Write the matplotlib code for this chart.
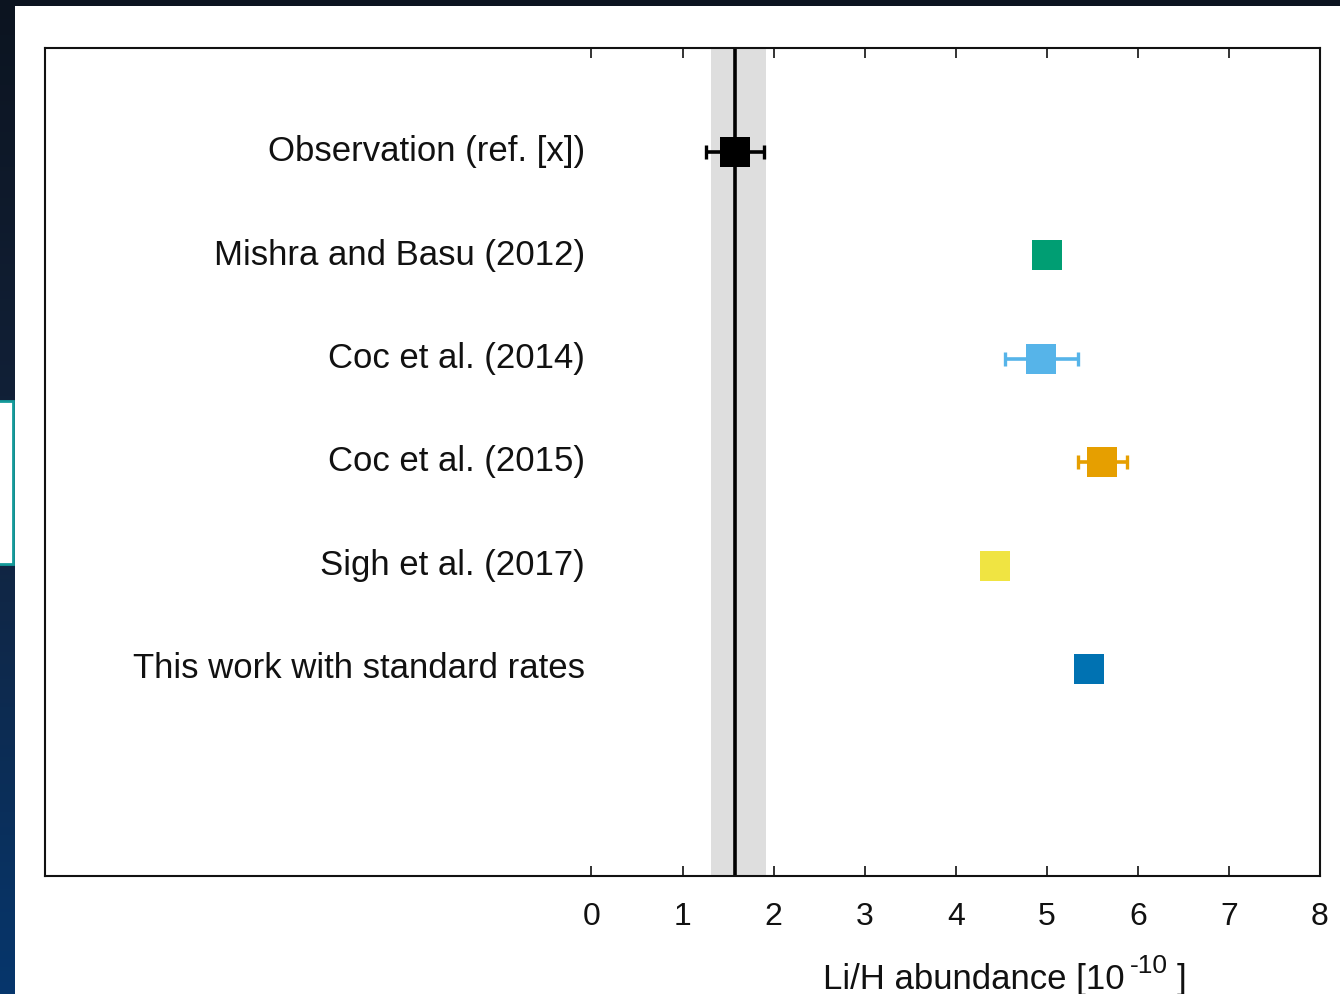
import numpy as np
import matplotlib
matplotlib.use("Agg")
import matplotlib.pyplot as plt
from matplotlib.patches import Rectangle
from matplotlib.colors import LinearSegmentedColormap

plt.rcParams['font.family'] = ['Liberation Sans', 'DejaVu Sans']

# ---- data ----
labels = ["Observation (ref. [x])", "Mishra and Basu (2012)", "Coc et al. (2014)",
          "Coc et al. (2015)", "Sigh et al. (2017)", "This work with standard rates"]
values = [1.58, 5.00, 4.94, 5.61, 4.43, 5.46]
errors = [0.32, 0.0, 0.40, 0.27, 0.0, 0.0]
colors = ["#000000", "#009E73", "#56B4E9", "#E69F00", "#F0E442", "#0072B2"]
obs_value = 1.58
obs_band = (1.31, 1.92)
xticks = [0, 1, 2, 3, 4, 5, 6, 7, 8]
xlabel_main = "Li/H abundance [10"
xlabel_exp = "-10"
xlabel_end = "]"

W, H = 1340, 994
fig = plt.figure(figsize=(W / 100, H / 100), dpi=100)

# background gradient (dark navy frame)
bg = fig.add_axes([0, 0, 1, 1], zorder=-10)
grad = np.linspace(0, 1, 256).reshape(-1, 1)
cmap = LinearSegmentedColormap.from_list("bgc", ["#0c1420", "#12233d", "#06366c"])
bg.imshow(grad, aspect="auto", cmap=cmap, extent=[0, 1, 0, 1], origin="upper")
bg.set_xlim(0, 1); bg.set_ylim(0, 1)
bg.axis("off")
# white panel
bg.add_patch(Rectangle((15 / W, 0), 1 - 15 / W, 1 - 6 / H, facecolor="white",
                       edgecolor="none", transform=bg.transAxes))
# small teal-bordered box at left edge
bg.add_patch(Rectangle((-2 / W, 1 - 564 / H), 15 / W, 163 / H, facecolor="white",
                       edgecolor="#149a9a", linewidth=2, transform=bg.transAxes))

ax = fig.add_axes([45 / W, 1 - 876 / H, (1320 - 45) / W, (876 - 48) / H])
ax.set_facecolor("white")
ypos = np.arange(1, len(labels) + 1)

ax.axvspan(obs_band[0], obs_band[1], color="#dedede", zorder=1, lw=0)
ax.axvline(obs_value, color="black", lw=2.6, zorder=2)

for i, (lab, v, e, c) in enumerate(zip(labels, values, errors, colors)):
    y = ypos[i]
    if e > 0:
        ax.errorbar(v, y, xerr=e, fmt="none", ecolor=c, elinewidth=2.6,
                    capsize=4.8, capthick=2.4, zorder=3)
    ax.plot(v, y, marker="s", ms=21.5, color=c, mec=c, mew=0, ls="none", zorder=4)
    ax.text(-0.07, y, lab, ha="right", va="center", fontsize=25, color="#111111")

ax.set_xlim(-6, 8)
ax.set_ylim(8, 0)
ax.set_xticks(xticks)
ax.set_xticklabels([str(t) for t in xticks])
ax.set_yticks([])
ax.tick_params(axis="x", direction="in", top=True, bottom=True, length=7, width=1.2,
               labelsize=23, pad=19, colors="#111111")
for s in ax.spines.values():
    s.set_linewidth(1.5)
    s.set_color("#111111")

# x label built from pieces: main text, raised exponent, closing bracket
fig.text(823 / W, 1 - 989 / H, xlabel_main, ha="left", va="baseline",
         fontsize=25, color="#111111")
fig.text(1130 / W, 1 - 973 / H, xlabel_exp, ha="left", va="baseline",
         fontsize=19, color="#111111")
fig.text(1177 / W, 1 - 989 / H, xlabel_end, ha="left", va="baseline",
         fontsize=25, color="#111111")

fig.savefig("out.png", dpi=100)
